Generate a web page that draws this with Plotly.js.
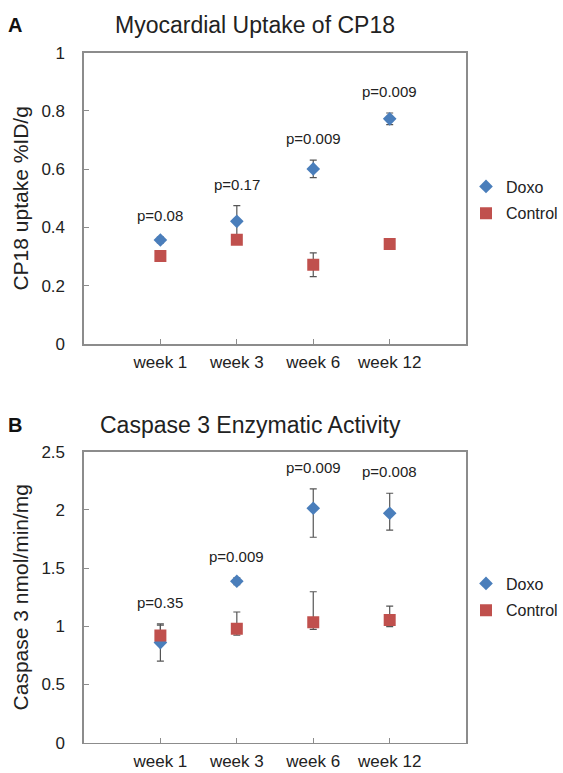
<!DOCTYPE html>
<html>
<head>
<meta charset="utf-8">
<script src="https://cdn.plot.ly/plotly-3.0.1.min.js"></script>
<style>
html, body { margin: 0; padding: 0; background: #fff; }
#chart { width: 563px; height: 773px; }
</style>
</head>
<body>
<div id="chart"></div>
<script>
// ---- data ----
const weeks = ["week 1", "week 3", "week 6", "week 12"];

// Panel A: Myocardial uptake of CP18 (%ID/g)
const uptakeDoxo = [0.357, 0.421, 0.601, 0.773];
const uptakeDoxoErr = [0.01, 0.054, 0.03, 0.02];
const uptakeControl = [0.302, 0.358, 0.272, 0.343];
const uptakeControlErr = [0.01, 0.01, 0.041, 0.01];
const uptakePValues = ["p=0.08", "p=0.17", "p=0.009", "p=0.009"];

// Panel B: Caspase 3 enzymatic activity (nmol/min/mg)
const caspDoxo = [0.86, 1.387, 2.014, 1.971];
const caspDoxoErrPlus = [0.16, 0.03, 0.166, 0.172];
const caspDoxoErrMinus = [0.16, 0.03, 0.249, 0.144];
const caspControl = [0.92, 0.98, 1.034, 1.054];
const caspControlErrPlus = [0.09, 0.143, 0.263, 0.12];
const caspControlErrMinus = [0.03, 0.055, 0.06, 0.057];
const caspPValues = ["p=0.35", "p=0.009", "p=0.009", "p=0.008"];

// ---- styles ----
const BLUE = "#4a7ebb";
const RED = "#c0504d";
const ERRC = "#555555";
const FONT = "Liberation Sans, Arial, sans-serif";
const TXT = "#222222";
const AXC = "#8c8c8c";

function errObj(plus, minus) {
  return {
    type: "data", array: plus, arrayminus: minus || plus,
    symmetric: !minus, visible: true,
    color: ERRC, thickness: 1.2, width: 3.5
  };
}

const traces = [
  { x: weeks, y: uptakeDoxo, name: "Doxo", type: "scatter", mode: "markers",
    xaxis: "x", yaxis: "y", legend: "legend", legendgroup: "a1",
    marker: { symbol: "diamond", size: 10.5, color: BLUE },
    error_y: errObj(uptakeDoxoErr) },
  { x: weeks, y: uptakeControl, name: "Control", type: "scatter", mode: "markers",
    xaxis: "x", yaxis: "y", legend: "legend", legendgroup: "a2",
    marker: { symbol: "square", size: 12, color: RED },
    error_y: errObj(uptakeControlErr) },
  { x: weeks, y: caspDoxo, name: "Doxo", type: "scatter", mode: "markers",
    xaxis: "x2", yaxis: "y2", legend: "legend2", legendgroup: "b1",
    marker: { symbol: "diamond", size: 10.5, color: BLUE },
    error_y: errObj(caspDoxoErrPlus, caspDoxoErrMinus) },
  { x: weeks, y: caspControl, name: "Control", type: "scatter", mode: "markers",
    xaxis: "x2", yaxis: "y2", legend: "legend2", legendgroup: "b2",
    marker: { symbol: "square", size: 12, color: RED },
    error_y: errObj(caspControlErrPlus, caspControlErrMinus) }
];

function xAxis(anchor) {
  return {
    type: "category", anchor: anchor, domain: [85/563, 472/563],
    range: [-1, 4], showgrid: false, zeroline: false,
    showline: true, linecolor: AXC, linewidth: 1.5, mirror: true,
    ticks: "inside", ticklen: 5, tickcolor: AXC, tickwidth: 1,
    ticklabelstandoff: 2,
    tickfont: { family: FONT, size: 17, color: TXT }
  };
}
function yAxis(anchor, domain, range, dtick, title) {
  return {
    anchor: anchor, domain: domain, range: range, dtick: dtick,
    showgrid: false, zeroline: false,
    showline: true, linecolor: AXC, linewidth: 1.5, mirror: true,
    ticks: "inside", ticklen: 5, tickcolor: AXC, tickwidth: 1,
    ticklabelstandoff: 14,
    tickfont: { family: FONT, size: 17, color: TXT },
    title: { text: title, font: { family: FONT, size: 21, color: TXT }, standoff: 7 }
  };
}

const annotations = [];
function addP(labels, yvals, plus, xref, yref) {
  labels.forEach((t, i) => {
    annotations.push({
      text: t, x: weeks[i], y: yvals[i] + plus[i], xref: xref, yref: yref,
      xanchor: "center", yanchor: "bottom", yshift: 11, showarrow: false,
      font: { family: FONT, size: 15, color: TXT }
    });
  });
}
addP(uptakePValues, uptakeDoxo, uptakeDoxoErr, "x", "y");
addP(caspPValues, caspDoxo, caspDoxoErrPlus, "x2", "y2");

// panel titles and letters
annotations.push(
  { text: "Myocardial Uptake of CP18", xref: "paper", yref: "paper",
    x: 258/563, y: 1 - 25/773, xanchor: "center", yanchor: "middle", showarrow: false,
    font: { family: FONT, size: 23, color: TXT } },
  { text: "Caspase 3 Enzymatic Activity", xref: "paper", yref: "paper",
    x: 254/563, y: 1 - 425/773, xanchor: "center", yanchor: "middle", showarrow: false,
    font: { family: FONT, size: 23, color: TXT } },
  { text: "<b>A</b>", xref: "paper", yref: "paper",
    x: 6/563, y: 1 - 25/773, xanchor: "left", yanchor: "middle", showarrow: false,
    font: { family: FONT, size: 20, color: "#111" } },
  { text: "<b>B</b>", xref: "paper", yref: "paper",
    x: 6/563, y: 1 - 425/773, xanchor: "left", yanchor: "middle", showarrow: false,
    font: { family: FONT, size: 20, color: "#111" } }
);

function legendObj(topPx) {
  return {
    x: 472/563, y: 1 - topPx/773, xref: "paper", yref: "paper",
    xanchor: "left", yanchor: "top", bgcolor: "rgba(0,0,0,0)",
    borderwidth: 0, traceorder: "grouped", tracegroupgap: 3,
    font: { family: FONT, size: 16, color: TXT },
    itemsizing: "trace"
  };
}

const layout = {
  width: 563, height: 773,
  margin: { l: 0, r: 0, t: 0, b: 0 },
  paper_bgcolor: "#ffffff", plot_bgcolor: "#ffffff",
  showlegend: true,
  xaxis: xAxis("y"),
  yaxis: yAxis("x", [1 - 344/773, 1 - 52.7/773], [0, 1], 0.2, "CP18 uptake %ID/g"),
  xaxis2: xAxis("y2"),
  yaxis2: yAxis("x2", [1 - 742.7/773, 1 - 451.7/773], [0, 2.5], 0.5, "Caspase 3 nmol/min/mg"),
  legend: legendObj(169.5),
  legend2: legendObj(566.5),
  annotations: annotations
};

Plotly.newPlot("chart", traces, layout, { displayModeBar: false, staticPlot: true });
</script>
</body>
</html>
